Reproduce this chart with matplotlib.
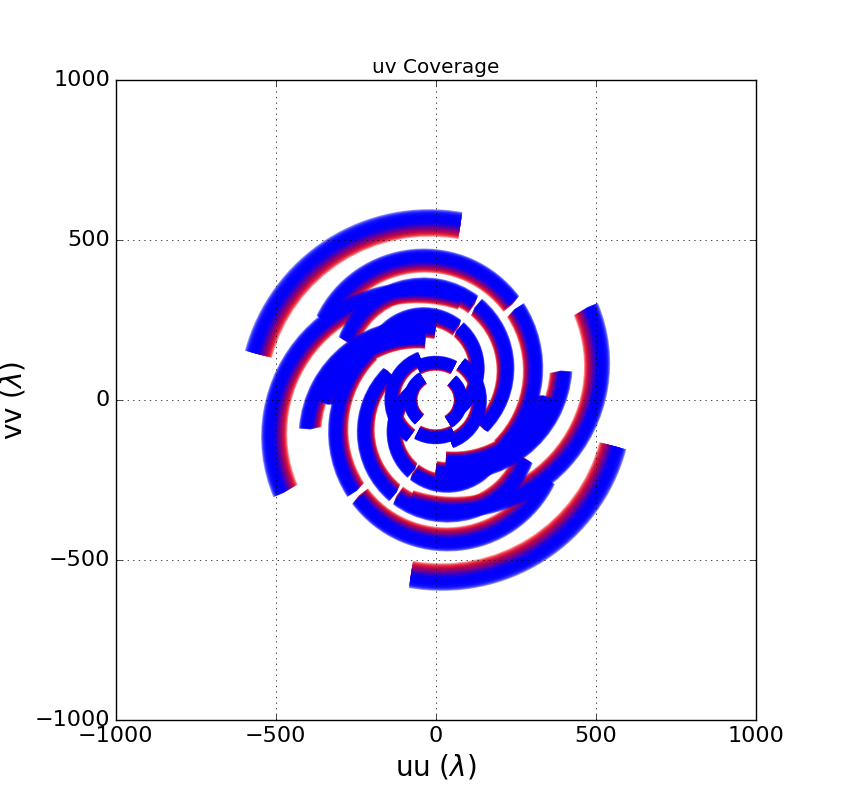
import numpy as np
import matplotlib
matplotlib.use('Agg')
import matplotlib.pyplot as plt
from matplotlib.patches import Arc

# uv tracks, upper set (the conjugate track is drawn point-mirrored)
# circle centre (u, v), radius and start/end angle in degrees
arc_cu = [-20, -37, -37, -37, -37, -37, -37, -62, -62, -62, 0, 0, 0]
arc_cv = [0, 100, 100, 100, 100, 100, 100, -115, -115, -115, -5, 0, 0]
arc_r = [578, 355, 355, 265, 265, 172, 172, 465, 348, 311, 125, 82, 142]
arc_t1 = [80, 37, -45, 53, -45, 52, -50, 72, 80, 85, 62, 120, 110]
arc_t2 = [165, 154, 33, 160, 50, 150, 49, 203, 176, 160, 118, 230, 235]

# channel frequency ratios, red (low) -> blue (high)
chan_scale = [0.915, 0.920, 0.924, 0.929, 0.933, 0.938, 0.942, 0.947, 0.951, 0.956,
              0.960, 0.964, 0.969, 0.973, 0.978, 0.982, 0.987, 0.991, 0.996, 1.000]

plt.style.use('classic')
plt.rcParams['mathtext.fontset'] = 'dejavusans'

fig = plt.figure(figsize=(8.5, 8), dpi=100, facecolor='white')
ax = fig.add_subplot(111)

nchan = len(chan_scale)
for k, s in enumerate(chan_scale):
    frac = min(1.0, k / 15.0)
    col = (1 - frac, 0, frac)
    for cu, cv, r, t1, t2 in zip(arc_cu, arc_cv, arc_r, arc_t1, arc_t2):
        for sign in (1, -1):
            a = Arc((sign * cu * s, sign * cv * s), 2 * r * s, 2 * r * s,
                    theta1=t1 + (0 if sign > 0 else 180),
                    theta2=t2 + (0 if sign > 0 else 180),
                    lw=8.5, color=col, alpha=0.4)
            ax.add_patch(a)

ax.set_xlim(-1000, 1000)
ax.set_ylim(-1000, 1000)
ax.set_aspect('equal')
ax.set_xticks([-1000, -500, 0, 500, 1000])
ax.set_yticks([-1000, -500, 0, 500, 1000])
ax.tick_params(labelsize=16)
ax.grid(True)
ax.set_title('uv Coverage', fontsize=14.4)
ax.set_xlabel(r'uu ($\lambda$)', fontsize=20)
ax.set_ylabel(r'vv ($\lambda$)', fontsize=20)

fig.savefig('out.png', dpi=100, facecolor='white')
